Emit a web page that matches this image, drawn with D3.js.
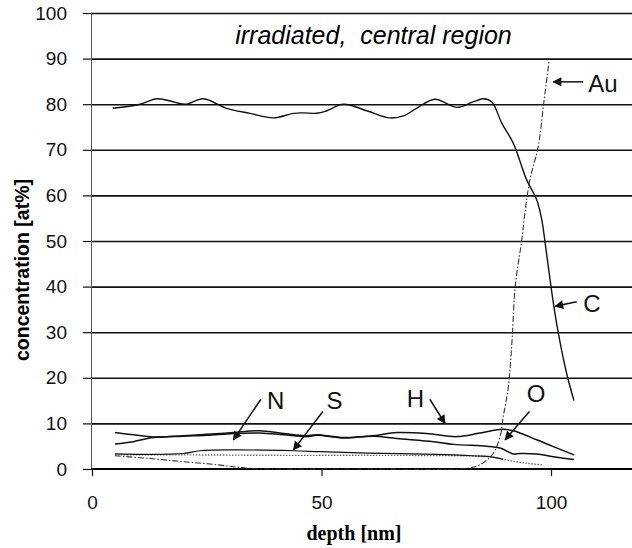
<!DOCTYPE html>
<html>
<head>
  <meta charset="utf-8">
  <title>irradiated, central region</title>
  <style>
    body { margin: 0; padding: 0; background: white; }
    svg { display: block; font-family: "Liberation Sans", Arial, sans-serif; }
    .grid line { stroke: #111; stroke-width: 1.6; }
    .grid .domain { display: none; }
    .yaxis .domain { stroke: #555; stroke-width: 1; }
    .yaxis line, .xaxis line { stroke: #111; stroke-width: 1.2; }
    .xaxis .domain { stroke: #000; stroke-width: 2; }
    .tick text { font-size: 19px; fill: #111; }
    .series { fill: none; }
    .label { font-size: 24px; fill: #111; }
    .arrow { stroke: #111; stroke-width: 1.5; }
  </style>
</head>
<body>
<div id="chart"></div>
<script src="https://d3js.org/d3.v7.min.js"></script>
<script>

// ---- depth profiles: [depth nm, at%] ----
var carbon = [[4.5,79.1],[10.5,80],[14.1,81.2],[17,80.7],[20.3,80],[24.3,81.2],[29.3,79.1],[34.4,78],
  [39.5,77],[43.9,78],[46,78.1],[49,78],[51,78.5],[54.8,80],[60,78.5],[64.9,77],[68,77.5],[70.7,79.1],
  [74.7,81.1],[79.5,79.3],[83,80.5],[85.3,81.2],[87.1,80.5],[89.3,75.8],[91.8,71.4],[94.7,63.4],
  [96.9,59],[98,54.6],[98.8,49],[99.6,43],[100.5,36.5],[101.6,29.8],[103.4,21],[105,15]]

var gold = [[5,2.9],[12.6,2.3],[19.9,1.6],[25.7,1.1],[30.8,0.5],[35,0.1],[40,0],[60,0],[80,0],
  [82.5,0.3],[84.5,0.9],[87.4,3.4],[88.9,7.1],[89.6,11.5],[90.7,18],[91.5,28],[92.2,40],[93.6,50],
  [94.3,56],[95.4,63.4],[97.2,70.7],[98.5,80.9],[99.6,89.7]]

var hydrogen = [[5,8.0],[9,7.5],[13.4,7.0],[19.9,7.3],[25,7.6],[30.8,8.0],[36.6,8.4],[41.7,7.8],
  [46.8,7.3],[49,7.5],[54.8,6.9],[61.3,7.3],[66.4,8.0],[72.9,7.8],[79.5,7.1],[84.5,7.9],[89.5,8.7],
  [91.8,8.4],[96.9,6.4],[100.5,4.9],[105,3.1]]

var nitrogen = [[5,5.5],[9,6.0],[13.4,6.9],[19.9,7.2],[25,7.4],[30.8,7.8],[36.6,7.9],[41.7,7.5],
  [46.8,7.1],[49,7.4],[54.8,6.8],[61.3,7.2],[66.4,6.7],[74.4,6.0],[78.8,5.4],[86,5.0],[88.9,4.6],
  [91.8,3.3],[93.2,3.4],[96.9,3.3],[100.5,2.7],[105,2.1]]

var sulfur = [[5,3.3],[12,3.2],[19.9,3.4],[23.5,4.0],[30.8,4.2],[43.9,4.0],[49.7,3.8],[60,3.5],
  [75,3.2],[83.8,2.85],[86.7,2.7],[89.6,2.1]]

var oxygen = [[5,3.1],[20,3.1],[40,3.0],[60,3.0],[80,2.9],[86.7,2.7],[90.3,2.0],[94.7,1.25],[98.3,0.9]]

var xTicks = [0, 50, 100]
var yTicks = [0, 10, 20, 30, 40, 50, 60, 70, 80, 90, 100]

// ---- labels with arrows, in data coordinates ----
var labels = [
  { text: "Au", at: [108.1, 82.7], from: [107.0, 84.9], to: [100.5, 84.9] },
  { text: "C",  at: [107.0, 34.5], from: [105.6, 36.7], to: [100.9, 35.7] },
  { text: "N",  at: [38.1, 13.1],  from: [36.8, 15.3],  to: [30.8, 6.4] },
  { text: "S",  at: [51.1, 13.1],  from: [50.3, 12.6],  to: [43.9, 4.2] },
  { text: "H",  at: [68.6, 13.5],  from: [73.6, 15.3],  to: [76.9, 10.0] },
  { text: "O",  at: [94.7, 14.8],  from: [95.3, 12.6],  to: [90.0, 6.4] }
]

var width = 632, height = 548
var plotLeft = 91, plotRight = 632, plotTop = 13, plotBottom = 469

var x = d3.scaleLinear().domain([0, 100]).range([92, 551])
var y = d3.scaleLinear().domain([0, 100]).range([plotBottom, plotTop])

var svg = d3.select("#chart").append("svg")
    .attr("width", width)
    .attr("height", height)

svg.append("defs").append("marker")
    .attr("id", "head")
    .attr("viewBox", "0 0 10 10")
    .attr("refX", 9).attr("refY", 5)
    .attr("markerWidth", 12).attr("markerHeight", 9)
    .attr("markerUnits", "userSpaceOnUse")
    .attr("orient", "auto")
  .append("path")
    .attr("d", "M0,0 L10,5 L0,10 Z")
    .attr("fill", "#111")

// gridlines
svg.append("g")
    .attr("class", "grid")
    .attr("transform", "translate(" + plotLeft + ",0)")
    .call(d3.axisLeft(y).tickValues(yTicks.slice(1)).tickSize(-(plotRight - plotLeft)).tickFormat(""))

// y axis
svg.append("g")
    .attr("class", "yaxis")
    .attr("transform", "translate(" + plotLeft + ",0)")
    .call(d3.axisLeft(y).tickValues(yTicks).tickSize(8).tickSizeOuter(0).tickPadding(16))

// x axis
var xAxis = svg.append("g")
    .attr("class", "xaxis")
    .attr("transform", "translate(0," + plotBottom + ")")
    .call(d3.axisBottom(x).tickValues(xTicks).tickSize(7).tickSizeOuter(0).tickPadding(20))
xAxis.select(".domain").attr("d", "M" + plotLeft + ",0H" + plotRight)

// axis titles
svg.append("text")
    .attr("x", 354).attr("y", 540)
    .attr("text-anchor", "middle")
    .style("font-family", "'Liberation Serif', 'Times New Roman', serif")
    .style("font-weight", "bold")
    .style("font-size", "20px")
    .text("depth [nm]")

svg.append("text")
    .attr("transform", "translate(29,270) rotate(-90)")
    .attr("text-anchor", "middle")
    .style("font-weight", "bold")
    .style("font-size", "19.5px")
    .text("concentration [at%]")

// title
svg.append("text")
    .attr("x", x(31.2)).attr("y", y(93.1))
    .style("font-style", "italic")
    .style("font-size", "25px")
    .style("white-space", "pre")
    .attr("xml:space", "preserve")
    .text("irradiated,  central region")

var line = d3.line()
    .x(function (d) { return x(d[0]) })
    .y(function (d) { return y(d[1]) })
    .curve(d3.curveCatmullRom)

var series = [
  { data: oxygen,   stroke: "#666", width: 1.4, dash: "1.5,1.5" },
  { data: sulfur,   stroke: "#111", width: 1.2, dash: null },
  { data: nitrogen, stroke: "#111", width: 1.5, dash: null },
  { data: hydrogen, stroke: "#111", width: 1.5, dash: null },
  { data: gold,     stroke: "#333", width: 1.1, dash: "6,2,1.5,2" },
  { data: carbon,   stroke: "#111", width: 1.4, dash: null }
]

svg.append("g").selectAll("path")
    .data(series)
    .enter().append("path")
    .attr("class", "series")
    .attr("d", function (d) { return line(d.data) })
    .attr("stroke", function (d) { return d.stroke })
    .attr("stroke-width", function (d) { return d.width })
    .attr("stroke-dasharray", function (d) { return d.dash })

// labels and arrows
var notes = svg.append("g").selectAll("g")
    .data(labels)
    .enter().append("g")

notes.append("line")
    .attr("class", "arrow")
    .attr("x1", function (d) { return x(d.from[0]) })
    .attr("y1", function (d) { return y(d.from[1]) })
    .attr("x2", function (d) { return x(d.to[0]) })
    .attr("y2", function (d) { return y(d.to[1]) })
    .attr("marker-end", "url(#head)")

notes.append("text")
    .attr("class", "label")
    .attr("x", function (d) { return x(d.at[0]) })
    .attr("y", function (d) { return y(d.at[1]) })
    .text(function (d) { return d.text })

</script>
</body>
</html>
